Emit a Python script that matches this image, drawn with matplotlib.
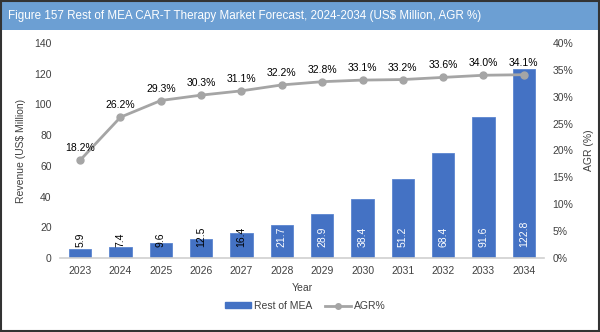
import matplotlib
matplotlib.use("Agg")
import matplotlib.pyplot as plt
from matplotlib.patches import Rectangle
from matplotlib.lines import Line2D

plt.rcParams['font.family'] = ['Liberation Sans', 'DejaVu Sans']

years = ["2023", "2024", "2025", "2026", "2027", "2028", "2029", "2030", "2031", "2032", "2033", "2034"]
revenue = [5.9, 7.4, 9.6, 12.5, 16.4, 21.7, 28.9, 38.4, 51.2, 68.4, 91.6, 122.8]
agr = [18.2, 26.2, 29.3, 30.3, 31.1, 32.2, 32.8, 33.1, 33.2, 33.6, 34.0, 34.1]
left_ticks = [0, 20, 40, 60, 80, 100, 120, 140]
right_ticks = [0, 5, 10, 15, 20, 25, 30, 35, 40]

title = "Figure 157 Rest of MEA CAR-T Therapy Market Forecast, 2024-2034 (US$ Million, AGR %)"
bar_color = "#4472C4"
line_color = "#A5A5A5"
text_color = "#404040"

fig = plt.figure(figsize=(6, 3.32), dpi=100)

# title bar
fig.patches.append(Rectangle((0, 1 - 30 / 332), 1, 29 / 332, transform=fig.transFigure,
                             facecolor="#6C9FD3", edgecolor="none", zorder=0))
fig.text(8 / 600, 1 - 16 / 332, title, color="white", fontsize=8.4, va="center", ha="left")
# outer border
fig.patches.append(Rectangle((0.001, 0.002), 0.997, 0.996, transform=fig.transFigure,
                             facecolor="none", edgecolor="#333333", linewidth=1.5, zorder=5))

ax = fig.add_axes([60 / 600, 1 - 258 / 332, 484 / 600, 215 / 332])
x = list(range(len(years)))
bars = ax.bar(x, revenue, width=0.55, color=bar_color, edgecolor="#5B85D0", linewidth=0.6,
              label="Rest of MEA", zorder=2)
ax.set_xlim(-0.5, len(years) - 0.5)
ax.set_ylim(0, 140)
ax.set_yticks(left_ticks)
ax.set_xticks(x)
ax.set_xticklabels(years)
for s in ["top", "right", "left"]:
    ax.spines[s].set_visible(False)
ax.spines["bottom"].set_color("#D0D0D0")
ax.spines["bottom"].set_linewidth(1.2)
ax.tick_params(axis="both", length=0, labelsize=7.5, colors=text_color, pad=6)
ax.set_ylabel("Revenue (US$ Million)", fontsize=7.5, color=text_color, labelpad=6)
ax.set_xlabel("Year", fontsize=7.5, color=text_color, labelpad=5)

for xi, v in zip(x, revenue):
    col = "black" if v < 20 else "white"
    ax.text(xi, 7.0, f"{v:.1f}", rotation=90, ha="center", va="bottom",
            fontsize=7.5, color=col, zorder=4)

ax2 = ax.twinx()
ax2.plot(x, agr, color=line_color, linewidth=2, marker="o", markersize=5,
         label="AGR%", zorder=3)
ax2.set_ylim(0, 40)
ax2.set_yticks(right_ticks)
ax2.set_yticklabels([f"{t}%" for t in right_ticks])
for s in ["top", "right", "left", "bottom"]:
    ax2.spines[s].set_visible(False)
ax2.tick_params(axis="y", length=0, labelsize=7.5, colors=text_color, pad=6)
ax2.set_ylabel("AGR (%)", fontsize=7.5, color=text_color, labelpad=8)
for xi, a in zip(x, agr):
    ax2.annotate(f"{a:.1f}%", (xi, a), xytext=(0, 5), textcoords="offset points",
                 ha="center", va="bottom", fontsize=7.5, color="black")

handles = [Rectangle((0, 0), 1, 1, color=bar_color),
           Line2D([0], [0], color=line_color, linewidth=2, marker="o", markersize=4)]
fig.legend(handles, ["Rest of MEA", "AGR%"], loc="center", bbox_to_anchor=(305 / 600, 1 - 306 / 332),
           ncol=2, frameon=False, fontsize=7.5, handlelength=2.5, handleheight=0.5,
           handletextpad=0.3, columnspacing=1.2, labelcolor=text_color)

fig.savefig("out.png", dpi=100)
